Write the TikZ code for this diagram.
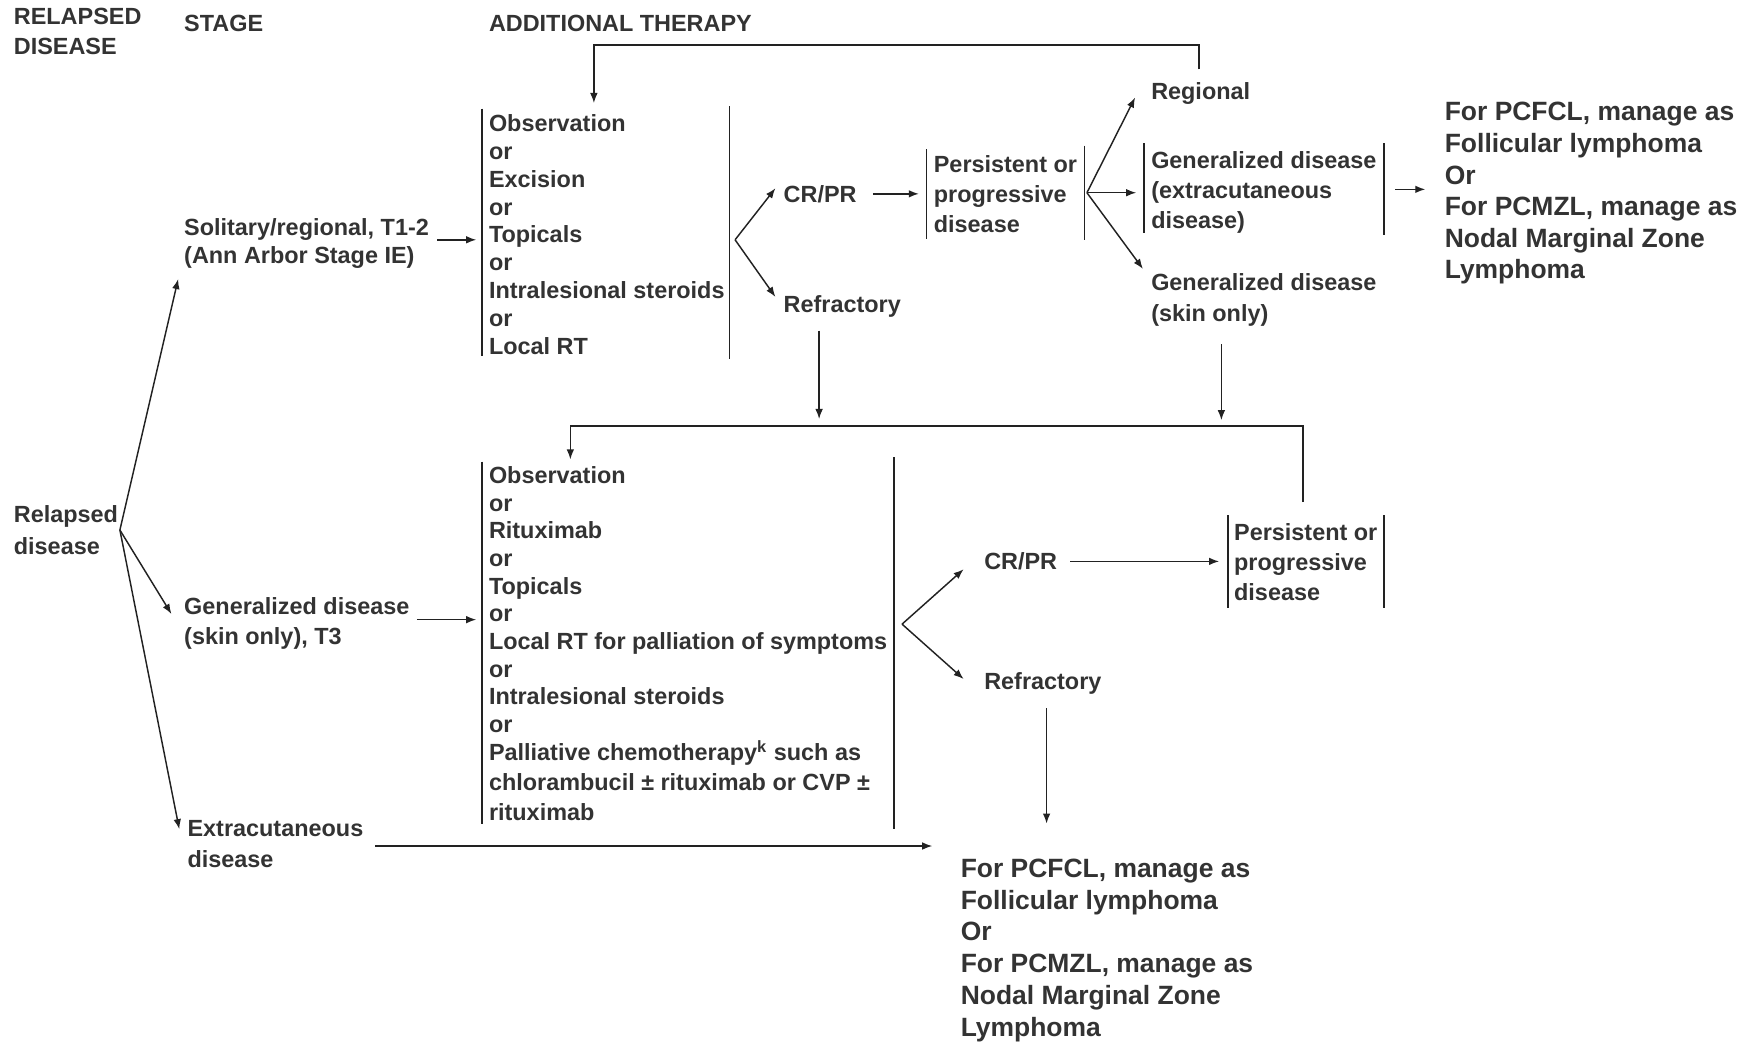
\documentclass[tikz,border=0pt]{standalone}
\usepackage{fontspec}
\setmainfont{Liberation Sans}
\usetikzlibrary{arrows.meta}
\definecolor{ink}{HTML}{333333}
\definecolor{wire}{HTML}{222222}
\begin{document}
\begin{tikzpicture}[x=0.5pt,y=-0.5pt,
  txt/.style={anchor=north west, inner sep=0pt, align=left, text=ink,
    font=\bfseries\fontsize{10.45}{#1}\selectfont},
  txt/.default=12.5,
  big/.style={anchor=north west, inner sep=0pt, align=left, text=ink,
    font=\bfseries\fontsize{11.8}{#1}\selectfont},
  big/.default=14.15,
  wire/.style={draw=wire, line width=0.65pt},
  arr/.style={wire, -{Latex[length=4.5pt,width=3.4pt]}},
  bar/.style={wire}]
\useasboundingbox (0,0) rectangle (1568,930);

% column headings
\node[txt=13.5] (hdrRel) at (12,7) {RELAPSED\\DISEASE};
\node[txt] (hdrStage) at (164,13) {STAGE};
\node[txt] (hdrTher) at (436,13) {ADDITIONAL THERAPY};

% stage column
\node[txt=14] (relapsed) at (12,451) {Relapsed\\disease};
\node[txt=12.5] (solitary) at (164,195) {Solitary/regional, T1-2\\(Ann Arbor Stage IE)};
\node[txt=13.5] (genT3) at (164,533) {Generalized disease\\(skin only), T3};
\node[txt=13.5] (extra) at (167,732) {Extracutaneous\\disease};

% upper therapy branch
\node[txt=12.4] (therA) at (436,102) {Observation\\or\\Excision\\or\\Topicals\\or\\Intralesional steroids\\or\\Local RT};
\node[txt] (crA) at (699,165) {CR/PR};
\node[txt] (refA) at (699,263) {Refractory};
\node[txt=13.5] (perA) at (833,138) {Persistent or\\progressive\\disease};
\node[txt] (regional) at (1027,73) {Regional};
\node[txt=13.25] (genX) at (1027,135) {Generalized disease\\(extracutaneous\\disease)};
\node[txt=13.5] (genS) at (1027,244) {Generalized disease\\(skin only)};
\node[big=14.1] (manA) at (1289,91) {For PCFCL, manage as\\Follicular lymphoma\\Or\\For PCMZL, manage as\\Nodal Marginal Zone\\Lymphoma};

% lower therapy branch
\node[txt=12.35] (therB) at (436,416) {Observation\\or\\Rituximab\\or\\Topicals\\or\\Local RT for palliation of symptoms\\or\\Intralesional steroids\\or\\Palliative chemotherapy\textsuperscript{k} such as\\[1.15pt]chlorambucil ± rituximab or CVP ±\\[1.15pt]rituximab};
\node[txt] (crB) at (878,493) {CR/PR};
\node[txt] (refB) at (878,600) {Refractory};
\node[txt=13.25] (perB) at (1101,467) {Persistent or\\progressive\\disease};
\node[big=14.2] (manB) at (857,766) {For PCFCL, manage as\\Follicular lymphoma\\Or\\For PCMZL, manage as\\Nodal Marginal Zone\\Lymphoma};

% side bars bracketing the option lists
\draw[bar] (430,97) -- (430,318);
\draw[bar] (651,95) -- (651,320);
\draw[bar] (827,133) -- (827,213);
\draw[bar] (968,130) -- (968,214);
\draw[bar] (1021,128) -- (1021,208);
\draw[bar] (1235,128) -- (1235,210);
\draw[bar] (430,412) -- (430,735);
\draw[bar] (798,408) -- (798,740);
\draw[bar] (1096,460) -- (1096,543);
\draw[bar] (1235,460) -- (1235,543);

% connector end points
\coordinate (relFork) at (107,473);
\coordinate (solIn) at (159,249);
\coordinate (genIn) at (153,548);
\coordinate (extIn) at (160,740);
\coordinate (solOut) at (390,214);
\coordinate (therAIn) at (425,214);
\coordinate (genOut) at (372,553);
\coordinate (therBIn) at (425,553);
\coordinate (extOut) at (335,755);
\coordinate (manBIn) at (832,755);
\coordinate (forkA) at (656,214);
\coordinate (crAIn) at (692,168);
\coordinate (refAIn) at (692,265);
\coordinate (crAOut) at (779,173);
\coordinate (perAIn) at (820,173);
\coordinate (perFork) at (970,172);
\coordinate (regIn) at (1013,87);
\coordinate (genXIn) at (1014,172);
\coordinate (genSIn) at (1020,240);
\coordinate (genXOut) at (1245,169);
\coordinate (manAIn) at (1272,169);
\coordinate (loopTop) at (1070,62);
\coordinate (therATop) at (530,92);
\coordinate (refAOut) at (731,295);
\coordinate (refAEnd) at (731,374);
\coordinate (genSOut) at (1090,307);
\coordinate (genSEnd) at (1090,375);
\coordinate (perBTop) at (1163,448);
\coordinate (therBTop) at (509,410);
\coordinate (forkB) at (805,557);
\coordinate (crBIn) at (860,508);
\coordinate (refBIn) at (860,606);
\coordinate (crBOut) at (955,501);
\coordinate (perBIn) at (1088,501);
\coordinate (refBOut) at (934,632);
\coordinate (manBTop) at (934,735);

% connectors
\draw[arr] (relFork) -- (solIn);
\draw[arr] (relFork) -- (genIn);
\draw[arr] (relFork) -- (extIn);
\draw[arr] (solOut) -- (therAIn);
\draw[arr] (genOut) -- (therBIn);
\draw[arr] (extOut) -- (manBIn);
\draw[arr] (forkA) -- (crAIn);
\draw[arr] (forkA) -- (refAIn);
\draw[arr] (crAOut) -- (perAIn);
\draw[arr] (perFork) -- (regIn);
\draw[arr] (perFork) -- (genXIn);
\draw[arr] (perFork) -- (genSIn);
\draw[arr] (genXOut) -- (manAIn);
\draw[arr] (loopTop) |- (530,40) -- (therATop);
\draw[arr] (refAOut) -- (refAEnd);
\draw[arr] (genSOut) -- (genSEnd);
\draw[arr] (perBTop) |- (509,380) -- (therBTop);
\draw[arr] (forkB) -- (crBIn);
\draw[arr] (forkB) -- (refBIn);
\draw[arr] (crBOut) -- (perBIn);
\draw[arr] (refBOut) -- (manBTop);
\end{tikzpicture}
\end{document}
